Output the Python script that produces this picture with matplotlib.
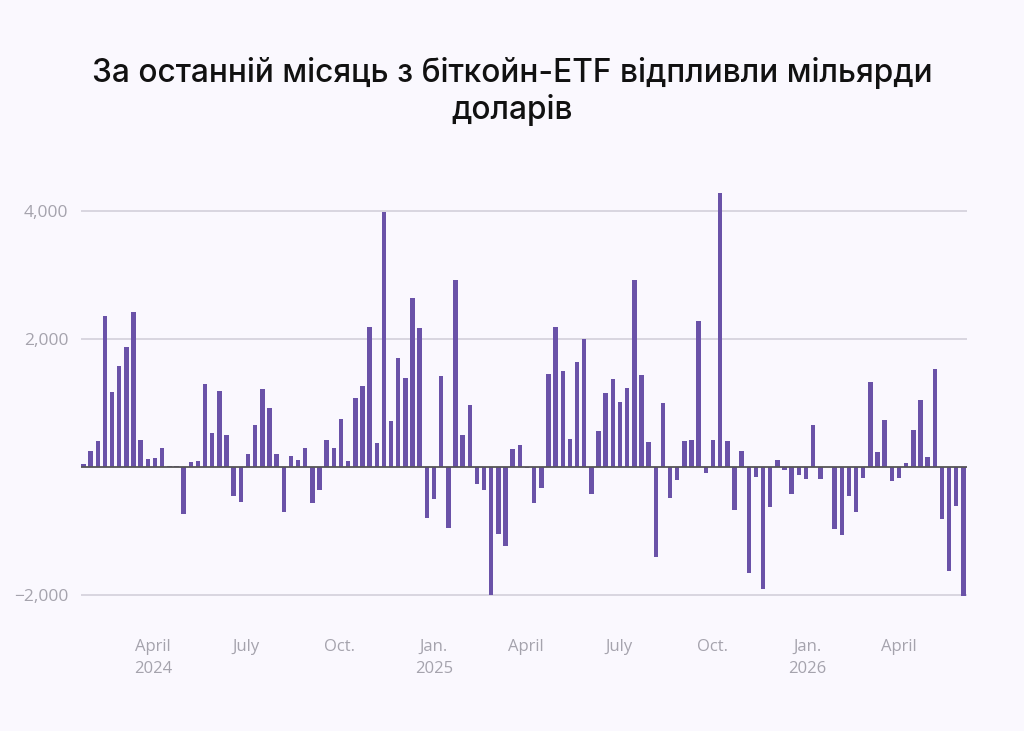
import numpy as np
import pandas as pd
import matplotlib
matplotlib.use("Agg")
from matplotlib import pyplot as plt
import matplotlib.dates as mdates

# weekly net flows into spot bitcoin ETFs, million USD
first_week = "2024-01-24"
flows = [
    40, 246, 398, 2367, 1178, 1576, 1874, 2419, 419, 126,
    147, 293, 10, 10, -738, 73, 94, 1293, 524, 1189,
    492, -461, -545, 199, 655, 1220, 916, 209, -707, 178,
    105, 288, -565, -356, 424, 288, 749, 94, 1073, 1272,
    2194, 377, 3990, 717, 1712, 1398, 2644, 2168, -796, -503,
    1419, -953, 2927, 497, 969, -272, -356, -2000, -1058, -1246,
    283, 335, -15, -565, -335, 1450, 2189, 1503, 440, 1639,
    2005, -424, 555, 1157, 1382, 1011, 1230, 2927, 1440, 393,
    -1408, 995, -482, -199, 408, 419, 2278, -99, 419, 4283,
    408, -670, 246, -1660, -152, -1917, -623, 105, -42, -419,
    -120, -183, 655, -183, 0, -980, -1064, -450, -714, -180,
    1334, 240, 740, -222, -180, 55, 583, 1043, 149, 1525,
    -813, -1634, -612, -2018,
]

tick_dates = ["2024-04-01", "2024-07-01", "2024-10-01", "2025-01-01", "2025-04-01",
              "2025-07-01", "2025-10-01", "2026-01-01", "2026-04-01"]
tick_labels = ["April\n2024", "July", "Oct.", "Jan.\n2025", "April",
               "July", "Oct.", "Jan.\n2026", "April"]

y_ticks = [-2000, 2000, 4000]
y_labels = ["\u22122,000", "2,000", "4,000"]

title = "За останній місяць з біткойн-ETF відпливли мільярди\nдоларів"

bg = "#FAF8FE"
bar_color = "#6A52A8"
grid_color = "#D9D6E0"
label_color = "#A5A3AD"

weeks = pd.date_range(first_week, periods=len(flows), freq="7D")

fig = plt.figure(figsize=(10.24, 7.31), dpi=100, facecolor=bg)
ax = fig.add_axes([0.0791, 0.1778, 0.8652, 0.5636], facecolor=bg)

ax.bar(weeks, flows, width=4.4, color=bar_color, zorder=2)
ax.axhline(0, color="#555555", lw=1.3, zorder=3)

for y in y_ticks:
    ax.axhline(y, color=grid_color, lw=1.4, zorder=1)

ref = mdates.date2num(pd.Timestamp("2025-01-01"))
ax.set_xlim(ref - 345.4, ref + 521.5)
ax.set_ylim(-2100, 4350)

ax.set_xticks(mdates.date2num(pd.to_datetime(tick_dates)))
ax.set_xticklabels(tick_labels, fontsize=12, color=label_color,
                   family="Open Sans", linespacing=1.5)
ax.set_yticks(y_ticks)
ax.set_yticklabels(y_labels, fontsize=12.5, color=label_color, family="Open Sans")
ax.tick_params(axis="both", length=0)
ax.tick_params(axis="x", pad=27)
ax.tick_params(axis="y", pad=9)
for s in ax.spines.values():
    s.set_visible(False)

fig.text(0.5, 0.8745, title, ha="center", va="center", fontsize=22.8,
         family="Inter", weight="medium", color="#111111", linespacing=1.18)

fig.savefig("out.png", dpi=100, facecolor=bg)
